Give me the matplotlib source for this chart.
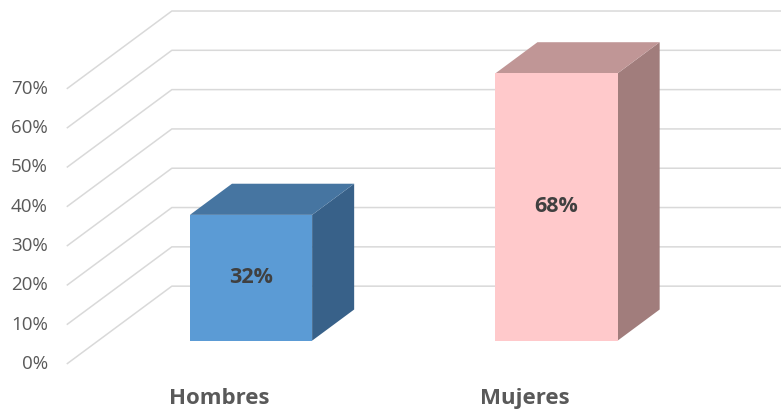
import matplotlib.pyplot as plt
from matplotlib.patches import Polygon

categories = ["Hombres", "Mujeres"]
values = [32, 68]
y_ticks = [0, 10, 20, 30, 40, 50, 60, 70]

front_colors = ["#5b9bd5", "#ffc9cb"]
top_colors = ["#4675a1", "#c09696"]
side_colors = ["#386189", "#a17d7c"]

# oblique "3d" projection: depth d in [0, 1] shifts points by (DX, DY)
DX = 0.344
DY = 19.8
BAR_W = 0.40
D0, D1 = 0.3, 0.7
FONT = ["Open Sans", "DejaVu Sans"]


def proj(x, y, d):
    return (x + d * DX, y + d * DY)


fig = plt.figure(figsize=(7.81, 4.11), dpi=100)
ax = fig.add_axes([0, 0, 1, 1])
ax.set_xlim(-0.7185, 1.838)
ax.set_ylim(-11.96, 92.6)
ax.axis("off")

# gridlines: floor diagonal + back wall
x_left, x_right = -0.5, 1.5
for t in y_ticks:
    p0 = proj(x_left, t, 0)
    p1 = proj(x_left, t, 1)
    p2 = proj(x_right, t, 1)
    ax.plot([p0[0], p1[0], p2[0]], [p0[1], p1[1], p2[1]],
            color="#d9d9d9", lw=1.1, zorder=1, solid_capstyle="butt")
    ax.text(x_left - 0.062, t, f"{t}%", ha="right", va="center",
            fontsize=13.5, color="#595959", family=FONT)

for i, (cat, v) in enumerate(zip(categories, values)):
    x0 = i - BAR_W / 2
    x1 = i + BAR_W / 2
    front = [proj(x0, 0, D0), proj(x1, 0, D0), proj(x1, v, D0), proj(x0, v, D0)]
    top = [proj(x0, v, D0), proj(x1, v, D0), proj(x1, v, D1), proj(x0, v, D1)]
    side = [proj(x1, 0, D0), proj(x1, 0, D1), proj(x1, v, D1), proj(x1, v, D0)]
    ax.add_patch(Polygon(side, closed=True, facecolor=side_colors[i], edgecolor="none", zorder=3))
    ax.add_patch(Polygon(top, closed=True, facecolor=top_colors[i], edgecolor="none", zorder=3))
    ax.add_patch(Polygon(front, closed=True, facecolor=front_colors[i], edgecolor="none", zorder=4))
    cx, cy = proj(i, v / 2, D0)
    ax.text(cx, cy, f"{v}%", ha="center", va="center", fontsize=15.5,
            fontweight="bold", color="#404040", zorder=5, family=FONT)
    ax.text(i, -10.3, cat, ha="center", va="baseline", fontsize=16,
            fontweight="bold", color="#595959", family=FONT)

fig.savefig("out.png", dpi=100)
